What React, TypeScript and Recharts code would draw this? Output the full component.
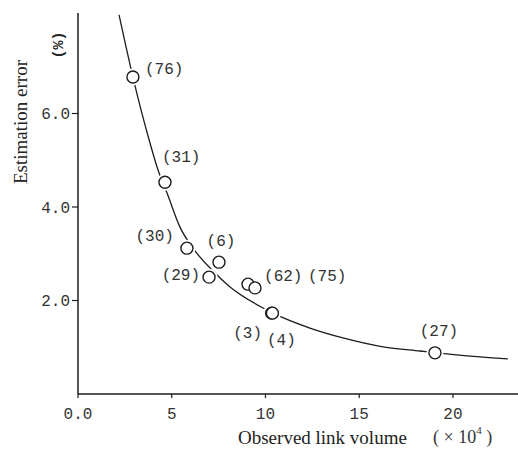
import React from "react";
import { ComposedChart, Line, Scatter, XAxis, YAxis, Label } from "recharts";

// Fitted curve (x in 10^4 vehicles, y in %)
const curveX = [2.19, 2.93, 3.84, 4.27, 4.75, 5.44, 6.13, 7.2, 8.11, 9.87, 10.35, 12.37, 14.13, 16.27, 18.24, 20.91, 22.93];
const curveY = [8.11, 6.78, 5.37, 4.79, 4.3, 3.57, 3.12, 2.63, 2.29, 1.84, 1.74, 1.41, 1.2, 1.01, 0.92, 0.81, 0.75];

// Observed links
const linkIds = ["76", "31", "30", "6", "29", "62", "75", "3", "4", "27"];
const linkX = [2.93, 4.64, 5.81, 7.52, 6.99, 9.07, 9.44, 10.33, 10.37, 19.04];
const linkY = [6.78, 4.53, 3.12, 2.82, 2.5, 2.35, 2.27, 1.73, 1.73, 0.88];

const xTicks = [0, 5, 10, 15, 20];
const yTicks = [2, 4, 6];

// where each "(id)" tag sits relative to its circle
const TAG_POS: Record<string, { dx: number; dy: number; anchor: "start" | "middle" | "end" }> = {
  "76": { dx: 12, dy: -7, anchor: "start" },
  "31": { dx: -3, dy: -24, anchor: "start" },
  "30": { dx: -13, dy: -11, anchor: "end" },
  "6": { dx: 2, dy: -20, anchor: "middle" },
  "29": { dx: -9, dy: -1, anchor: "end" },
  "62": { dx: 16, dy: -7, anchor: "start" },
  "75": { dx: 53, dy: -11, anchor: "start" },
  "3": { dx: -24, dy: 21, anchor: "middle" },
  "4": { dx: 9, dy: 28, anchor: "middle" },
  "27": { dx: 4, dy: -21, anchor: "middle" },
};

const MONO = "'Liberation Mono', 'DejaVu Sans Mono', monospace";
const SERIF = "'Liberation Serif', 'DejaVu Serif', serif";
const INK = "#1c1c1c";

const curveData = curveX.map((x, i) => ({ x, y: curveY[i] }));
const linkData = linkIds.map((id, i) => ({ id, x: linkX[i], y: linkY[i] }));

function Halo(props: any) {
  const { cx, cy } = props;
  return <circle cx={cx} cy={cy} r={8.5} fill="#fff" />;
}

function LinkDot(props: any) {
  const { cx, cy, payload } = props;
  const pos = TAG_POS[payload.id] || { dx: 10, dy: -10, anchor: "start" };
  return (
    <g>
      <circle cx={cx} cy={cy} r={6} fill="#fff" stroke={INK} strokeWidth={1.4} />
      <text
        x={cx + pos.dx}
        y={cy + pos.dy}
        textAnchor={pos.anchor}
        dominantBaseline="central"
        fontFamily={MONO}
        fontSize={16}
        fill="#333"
      >
        {`(${payload.id})`}
      </text>
    </g>
  );
}

export default function App() {
  return (
    <div style={{ position: "absolute", left: 0, top: 0, background: "#fff" }}>
      <ComposedChart width={518} height={451} margin={{ top: 13, right: 0, bottom: 27, left: 0 }}>
        <XAxis
          type="number"
          dataKey="x"
          domain={[0, 23.47]}
          ticks={xTicks}
          height={30}
          tickFormatter={(v) => (v === 0 ? "0.0" : String(v))}
          tickSize={4}
          tickMargin={10}
          tick={{ fontFamily: MONO, fontSize: 16, fill: "#333" }}
          axisLine={{ stroke: INK, strokeWidth: 1.5 }}
          tickLine={{ stroke: INK, strokeWidth: 1.2 }}
          allowDataOverflow
        >
          <Label
            content={() => (
              <g>
                <text x={238} y={437} fontFamily={SERIF} fontSize={19} fill="#222" dominantBaseline="central">
                  Observed link volume
                </text>
                <text x={433} y={437} fontFamily={SERIF} fontSize={18} fill="#333" dominantBaseline="central">
                  {"( × 10"}
                  <tspan fontSize={11} dy={-7}>4</tspan>
                  <tspan dy={7}>{" )"}</tspan>
                </text>
              </g>
            )}
          />
        </XAxis>
        <YAxis
          type="number"
          dataKey="y"
          domain={[0, 8.15]}
          ticks={yTicks}
          tickFormatter={(v) => Number(v).toFixed(1)}
          width={78}
          tickSize={6}
          tickMargin={2}
          tick={{ fontFamily: MONO, fontSize: 16, fill: "#333" }}
          axisLine={{ stroke: INK, strokeWidth: 1.5 }}
          tickLine={{ stroke: INK, strokeWidth: 1.2 }}
          allowDataOverflow
        >
          <Label
            content={() => (
              <g>
                <text
                  x={20}
                  y={122}
                  transform="rotate(-90 20 122)"
                  textAnchor="middle"
                  dominantBaseline="central"
                  fontFamily={SERIF}
                  fontSize={19}
                  fill="#222"
                >
                  Estimation error
                </text>
                <text
                  x={59}
                  y={45}
                  transform="rotate(-90 59 45)"
                  textAnchor="middle"
                  dominantBaseline="central"
                  fontFamily={MONO}
                  fontSize={15}
                  fontWeight={700}
                  fill="#222"
                >
                  (%)
                </text>
              </g>
            )}
          />
        </YAxis>
        <Line
          data={curveData}
          dataKey="y"
          type="monotone"
          stroke={INK}
          strokeWidth={1.3}
          dot={false}
          activeDot={false}
          isAnimationActive={false}
        />
        <Scatter data={linkData} dataKey="y" shape={<Halo />} isAnimationActive={false} />
        <Scatter data={linkData} dataKey="y" shape={<LinkDot />} isAnimationActive={false} />
      </ComposedChart>
    </div>
  );
}
